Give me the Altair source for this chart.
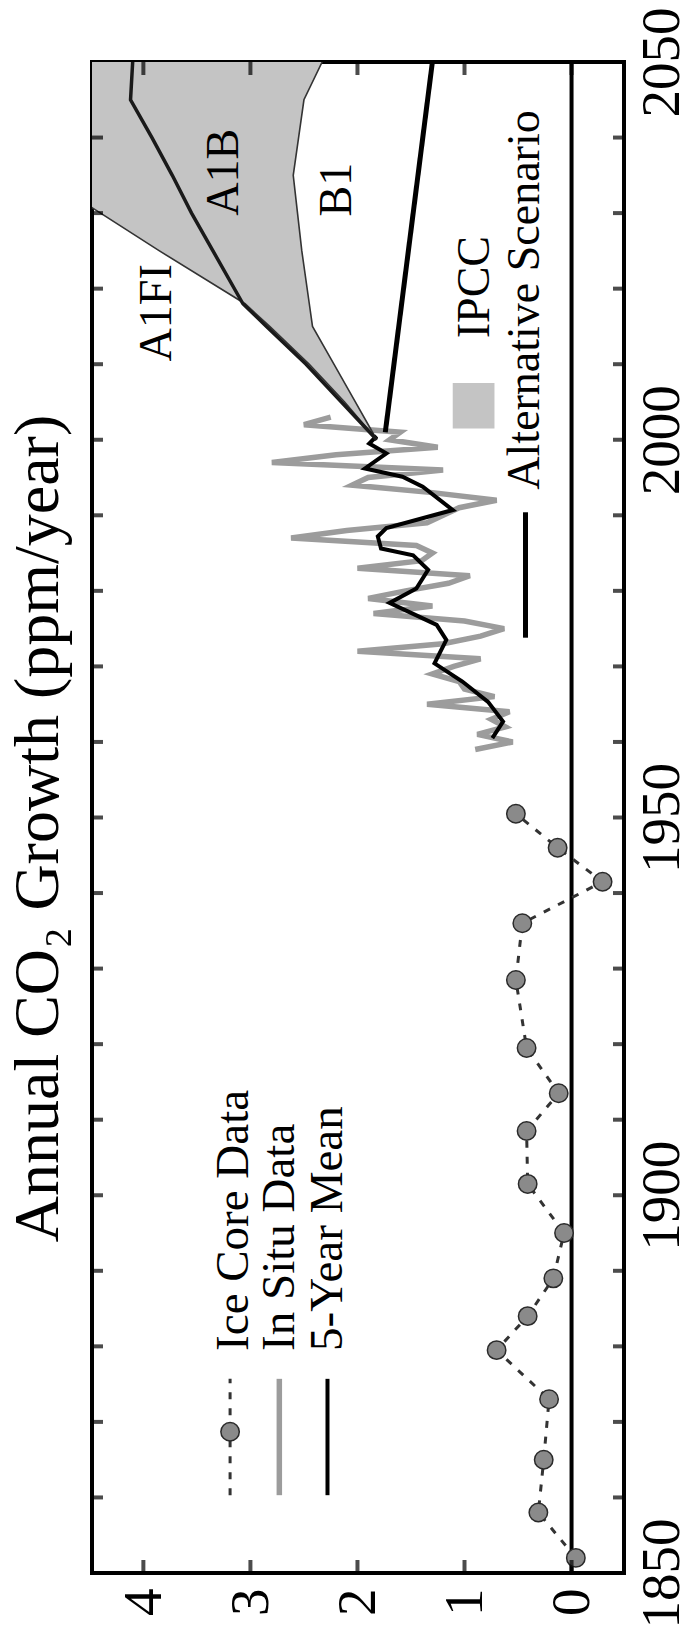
import altair as alt
import pandas as pd

SERIF = "Liberation Serif"

# Ice core record: year, annual CO2 growth (ppm/yr)
ice_years = [1852, 1858, 1865, 1873, 1879.5, 1884, 1889, 1895, 1901.5, 1908.5,
             1913.5, 1919.5, 1928.5, 1936, 1941.5, 1946, 1950.5]
ice_growth = [-0.04, 0.31, 0.26, 0.21, 0.70, 0.41, 0.17, 0.07, 0.41, 0.42,
              0.12, 0.42, 0.52, 0.46, -0.29, 0.13, 0.52]

# In situ (Mauna Loa) annual growth
situ_years = list(range(1959, 2004))
situ_growth = [0.90, 0.55, 0.88, 0.62, 0.75, 0.58, 1.35, 0.72, 1.00, 1.05,
               1.30, 1.10, 0.85, 2.00, 1.20, 0.85, 0.63, 1.00, 1.85, 1.30,
               1.90, 1.55, 1.15, 0.95, 2.00, 1.40, 1.30, 1.45, 2.62, 2.10,
               1.35, 1.20, 1.05, 0.70, 1.30, 2.05, 1.90, 1.20, 2.80, 2.20,
               1.25, 1.70, 1.60, 2.50, 2.25]

# Five-year running mean
mean_years = [1960.5, 1962.7, 1965.3, 1968.0, 1970.4, 1973.5, 1975.5, 1978.4,
              1980.3, 1982.8, 1984.7, 1985.6, 1987.2, 1988.3, 1990.7, 1993.8,
              1995.1, 1996.2, 1998.2, 1999.5, 2000.5]
mean_growth = [0.74, 0.64, 0.78, 1.02, 1.28, 1.17, 1.26, 1.70,
               1.45, 1.34, 1.48, 1.78, 1.81, 1.73, 1.11, 1.39,
               1.58, 1.93, 1.73, 1.89, 1.82]

# IPCC scenario projections
ipcc_years = [2000, 2005, 2010, 2015, 2018, 2025, 2030, 2035, 2040, 2045, 2050]
a1fi = [1.82, 2.12, 2.45, 2.82, 3.05, 3.85, 4.40, 4.95, 5.50, 6.05, 6.60]
a1b = [1.82, 2.15, 2.48, 2.85, 3.07, 3.35, 3.55, 3.73, 3.92, 4.12, 4.10]
b1 = [1.82, 2.02, 2.22, 2.42, 2.45, 2.52, 2.56, 2.60, 2.55, 2.50, 2.33]

# Alternative scenario
altsc_years = [2001, 2050]
altsc_growth = [1.74, 1.30]

# Axes
growth_ticks = [0, 1, 2, 3, 4]
year_labels = [1850, 1900, 1950, 2000, 2050]
year_ticks = list(range(1860, 2050, 10))
growth_domain = [-0.49, 4.48]
year_domain = [1850, 2050]

# Scenario labels inside the plot
scen_labels = ["A1FI", "A1B", "B1", "IPCC", "Alternative Scenario"]
scen_years = [2016.8, 2035.4, 2033.1, 2020.2, 2018.5]
scen_growth = [3.74, 3.12, 2.06, 0.77, 0.30]

# Key for the measured series
key_labels = ["Ice Core Data", "In Situ Data", "5-Year Mean"]
key_text_growth = [3.02, 2.59, 2.14]
key_line_growth = [3.19, 2.73, 2.28]
key_text_year = 1879.4
key_line_years = [1860.3, 1875.7]
key_marker_year = 1868.7

# Key for the projections
ipcc_swatch_growth = [0.72, 1.11]
ipcc_swatch_years = [2001.5, 2007.5]
altsc_key_growth = 0.43
altsc_key_years = [1973.8, 1990.4]

xscale = alt.Scale(domain=growth_domain, reverse=True, nice=False, zero=False)
yscale = alt.Scale(domain=year_domain, nice=False, zero=False)

xaxis = alt.Axis(values=growth_ticks, orient="bottom", labelAngle=270,
                 labelAlign="right", labelBaseline="middle", labelFont=SERIF,
                 labelFontSize=55, labelColor="black", labelPadding=15,
                 labelFlush=False, labelOverlap=False, ticks=False, tickSize=0,
                 domain=False, grid=False, title=None)
yaxis = alt.Axis(values=year_labels, orient="right", labelAngle=270,
                 labelAlign="center", labelBaseline="top", labelFont=SERIF,
                 labelFontSize=55, labelColor="black", labelPadding=11,
                 labelFlush=False, labelOverlap=False, ticks=False, tickSize=0,
                 domain=False, grid=False, title=None, format="d")


def X(field="v"):
    return alt.X(f"{field}:Q", scale=xscale, axis=xaxis)


def Y(field="yr"):
    return alt.Y(f"{field}:Q", scale=yscale, axis=yaxis)


ice = pd.DataFrame({"yr": ice_years, "v": ice_growth})
situ = pd.DataFrame({"yr": situ_years, "v": situ_growth})
mean5 = pd.DataFrame({"yr": mean_years, "v": mean_growth})
ipcc = pd.DataFrame({"yr": ipcc_years, "v": a1fi, "b1": b1, "a1b": a1b})
altsc = pd.DataFrame({"yr": altsc_years, "v": altsc_growth})

# IPCC range shading between A1FI and B1
fan = alt.Chart(ipcc).mark_area(orient="horizontal", color="#c4c4c4", clip=True).encode(
    x=X(), x2="b1:Q", y=Y())

zero_line = alt.Chart(pd.DataFrame({"v": [0]})).mark_rule(
    color="black", strokeWidth=4).encode(x=X())

ice_line = alt.Chart(ice).mark_line(
    color="#333333", strokeWidth=3, strokeDash=[7, 9]).encode(
    x=X(), y=Y(), order="yr:Q")
ice_pts = alt.Chart(ice).mark_circle(
    size=340, color="#8a8a8a", stroke="#2a2a2a", strokeWidth=1.5, opacity=1).encode(
    x=X(), y=Y())

situ_line = alt.Chart(situ).mark_line(
    color="#9c9c9c", strokeWidth=5.5).encode(x=X(), y=Y(), order="yr:Q")
mean_line = alt.Chart(mean5).mark_line(
    color="black", strokeWidth=4).encode(x=X(), y=Y(), order="yr:Q")

a1fi_line = alt.Chart(ipcc).mark_line(
    color="#333333", strokeWidth=1.6, clip=True).encode(x=X(), y=Y(), order="yr:Q")
b1_line = alt.Chart(ipcc).mark_line(
    color="#333333", strokeWidth=1.6, clip=True).encode(
    x=X("b1"), y=Y(), order="yr:Q")
a1b_line = alt.Chart(ipcc).mark_line(
    color="#1a1a1a", strokeWidth=3.5, clip=True).encode(
    x=X("a1b"), y=Y(), order="yr:Q")
altsc_line = alt.Chart(altsc).mark_line(
    color="black", strokeWidth=5, clip=True).encode(x=X(), y=Y(), order="yr:Q")

# Inward tick marks on all four sides of the frame
edge_ticks_h = pd.DataFrame(
    [{"v": g, "yr": e} for g in growth_ticks for e in year_domain])
edge_ticks_v = pd.DataFrame(
    [{"v": e, "yr": t} for t in year_ticks for e in growth_domain])
ticks_h = alt.Chart(edge_ticks_h).mark_tick(
    orient="vertical", size=26, thickness=4, color="black", clip=True).encode(
    x=X(), y=Y())
ticks_v = alt.Chart(edge_ticks_v).mark_tick(
    orient="horizontal", size=22, thickness=4, color="black", clip=True).encode(
    x=X(), y=Y())

# Scenario labels
scen = pd.DataFrame({"label": scen_labels, "yr": scen_years, "v": scen_growth})
scen_text = alt.Chart(scen).mark_text(
    angle=270, font=SERIF, fontSize=46, align="center", baseline="alphabetic",
    color="black").encode(x=X(), y=Y(), text="label:N")

# Key for measured series
key = pd.DataFrame({"label": key_labels, "v": key_text_growth,
                    "yr": [key_text_year] * 3})
key_text = alt.Chart(key).mark_text(
    angle=270, font=SERIF, fontSize=47, align="left", baseline="alphabetic",
    color="black").encode(x=X(), y=Y(), text="label:N")

key_rows = pd.DataFrame({"v": key_line_growth,
                         "yr": [key_line_years[0]] * 3,
                         "yr2": [key_line_years[1]] * 3,
                         "kind": ["ice", "situ", "mean"]})
key_ice = alt.Chart(key_rows[key_rows.kind == "ice"]).mark_rule(
    color="#333333", strokeWidth=3, strokeDash=[7, 9]).encode(
    x=X(), y=Y(), y2="yr2:Q")
key_ice_pt = alt.Chart(pd.DataFrame({"v": [key_line_growth[0]],
                                     "yr": [key_marker_year]})).mark_circle(
    size=340, color="#8a8a8a", stroke="#2a2a2a", strokeWidth=1.5, opacity=1).encode(
    x=X(), y=Y())
key_situ = alt.Chart(key_rows[key_rows.kind == "situ"]).mark_rule(
    color="#9c9c9c", strokeWidth=5.5).encode(x=X(), y=Y(), y2="yr2:Q")
key_mean = alt.Chart(key_rows[key_rows.kind == "mean"]).mark_rule(
    color="black", strokeWidth=4).encode(x=X(), y=Y(), y2="yr2:Q")

# Key for projections
swatch = alt.Chart(pd.DataFrame({"v": [ipcc_swatch_growth[0]],
                                 "v2": [ipcc_swatch_growth[1]],
                                 "yr": [ipcc_swatch_years[0]],
                                 "yr2": [ipcc_swatch_years[1]]})).mark_rect(
    color="#c4c4c4").encode(x=X(), x2="v2:Q", y=Y(), y2="yr2:Q")
altsc_key = alt.Chart(pd.DataFrame({"v": [altsc_key_growth],
                                    "yr": [altsc_key_years[0]],
                                    "yr2": [altsc_key_years[1]]})).mark_rule(
    color="black", strokeWidth=5).encode(x=X(), y=Y(), y2="yr2:Q")

chart = alt.layer(
    fan, zero_line, ice_line, ice_pts, situ_line, mean_line,
    a1fi_line, b1_line, a1b_line, altsc_line,
    ticks_h, ticks_v, scen_text, key_text,
    key_ice, key_ice_pt, key_situ, key_mean, swatch, altsc_key,
).properties(
    width=532,
    height=1511,
    title=alt.TitleParams(
        text="Annual CO₂ Growth (ppm/year)", orient="left", anchor="middle",
        frame="group", font=SERIF, fontSize=64, fontWeight="normal",
        color="black", baseline="alphabetic", offset=-30, dx=-11),
    autosize=alt.AutoSizeParams(type="none"),
    padding={"left": 92, "top": 62, "right": 66, "bottom": 61},
    background="white",
).configure_view(stroke="black", strokeWidth=4)

chart.save("out.html", embed_options={"renderer": "svg", "actions": False})
